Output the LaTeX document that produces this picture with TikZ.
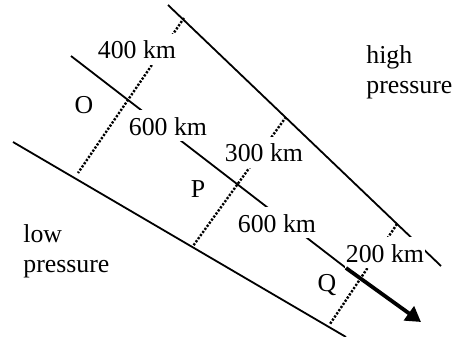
\documentclass[tikz,border=0pt]{standalone}
\usepackage{fontspec}
\setmainfont{Liberation Serif}
\usetikzlibrary{arrows.meta}
\begin{document}
\begin{tikzpicture}[x=0.5pt,y=-0.5pt,
  isobar/.style={line width=0.9pt},
  dist/.style={line width=1.2pt,dash pattern=on 1.1pt off 0.8pt},
  txt/.style={font=\fontsize{12.9}{14.8}\selectfont,inner sep=0pt},
  km/.style={txt,fill=white,text height=12.6pt,text depth=2.8pt,inner xsep=0.7pt,anchor=base},
  region/.style={txt,align=left,anchor=base west},
  flow/.style={line width=1.9pt,-{Triangle[length=7.5pt,width=8.5pt]}}]
\useasboundingbox (0,0) rectangle (456,337);
% isobars
\coordinate (T1) at (168,5);   \coordinate (T2) at (441,266);
\coordinate (M1) at (71,56);   \coordinate (M2) at (346,268);
\coordinate (B1) at (13,142);  \coordinate (B2) at (346,337);
\coordinate (A)  at (421,322);
\draw[isobar] (T1) -- (T2);
\draw[isobar] (M1) -- (M2);
\draw[isobar] (B1) -- (B2);
% distance markers
\coordinate (D1a) at (184,18);  \coordinate (D1b) at (78,173);
\coordinate (D2a) at (286,117); \coordinate (D2b) at (193,246);
\coordinate (D3a) at (397,224); \coordinate (D3b) at (330,324);
\draw[dist] (D1a) -- (D1b);
\draw[dist] (D2a) -- (D2b);
\draw[dist] (D3a) -- (D3b);
% distance labels
\node[km] (k400) at (137,59) {400 km};
\node[km] (k600a) at (168,135) {600 km};
\node[km] (k300) at (264,162) {300 km};
\node[km] (k600b) at (277,232) {600 km};
\node[km] (k200) at (385,262) {200 km};
% points
\node[txt,anchor=base] (O) at (84,113) {O};
\node[txt,anchor=base] (P) at (198,197) {P};
\node[txt,anchor=base] (Q) at (327,291) {Q};
% regions
\node[region] (high) at (366,93) {high\\pressure};
\node[region] (low) at (23,272) {low\\pressure};
% wind
\draw[flow] (M2) -- (A);
\end{tikzpicture}
\end{document}
